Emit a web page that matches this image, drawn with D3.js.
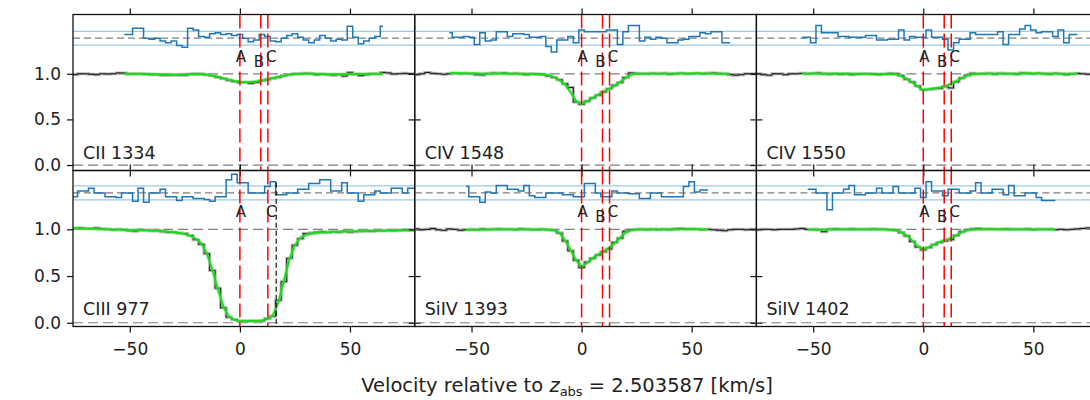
<!DOCTYPE html>
<html>
<head>
<meta charset="utf-8">
<script src="https://cdn.jsdelivr.net/npm/d3@7"></script>
<style>
    body { margin: 0; background: #fff; }
    text { font-family: "DejaVu Sans", sans-serif; }
</style>
</head>
<body>
<div id="chart"></div>
<script>
// velocity grid of the spectrum bins (km/s)
const velGrid = [
    -77.5, -75, -72.5, -70, -67.5, -65, -62.5, -60, -57.5, -55,
    -52.5, -50, -47.5, -45, -42.5, -40, -37.5, -35, -32.5, -30,
    -27.5, -25, -22.5, -20, -17.5, -15, -12.5, -10, -7.5, -5,
    -2.5, 0, 2.5, 5, 7.5, 10, 12.5, 15, 17.5, 20,
    22.5, 25, 27.5, 30, 32.5, 35, 37.5, 40, 42.5, 45,
    47.5, 50, 52.5, 55, 57.5, 60, 62.5, 65, 67.5, 70,
    72.5, 75, 77.5, 80
];

const xTicks = [-50, 0, 50];
const yTicks = [0, 0.5, 1.0];

// component positions (km/s)
const compNames = ["A", "B", "C"];
const compVel = [0, 9.5, 12.7];
const extraLineVel = 16.5;   // black dashed line in CIII panel

const residCenter = 1.39;
const residBand = 0.075;

// ---------- CII 1334 ----------
const cii1334Flux = [
    0.995, 0.99, 1.0, 1.0, 0.995, 0.99, 1.0, 0.998, 1.0, 1.01,
    1.01, 0.998, 1.0, 1.0, 0.995, 0.99, 0.99, 0.985, 0.985, 0.988,
    0.985, 0.985, 0.995, 1.0, 0.997, 0.99, 0.978, 0.962, 0.948, 0.93,
    0.915, 0.905, 0.905, 0.895, 0.905, 0.925, 0.935, 0.95, 0.962, 0.98,
    0.99, 1.0, 1.0, 1.005, 1.0, 0.99, 0.995, 0.99, 0.985, 0.99,
    0.975, 1.015, 0.995, 0.98, 0.99, 1.0, 1.0, 1.015, 1.01, 0.998,
    1.0, 1.005, 1.0, 1.0
];
const cii1334Fit = [-52.5, 65];
const cii1334Model = [
    1.0, 1.0, 1.0, 1.0, 0.999, 0.997, 0.995, 0.993, 0.992, 0.992,
    0.992, 0.993, 0.995, 0.996, 0.995, 0.99, 0.98, 0.966, 0.95, 0.935,
    0.922, 0.913, 0.909, 0.91, 0.917, 0.927, 0.94, 0.953, 0.967, 0.98,
    0.991, 0.997, 1.0, 1.002, 1.002, 1.0, 0.998, 0.996, 0.995, 0.995,
    0.996, 0.998, 0.999, 1.0, 1.0, 1.0, 1.0, 1.0
];
const cii1334Resid = [
    1.43, 1.43, 1.50, 1.50, 1.39, 1.38, 1.39, 1.36, 1.34, 1.36,
    1.31, 1.29, 1.50, 1.48, 1.41, 1.40, 1.44, 1.45, 1.43, 1.44,
    1.42, 1.43, 1.39, 1.35, 1.37, 1.43, 1.41, 1.36, 1.35, 1.39,
    1.42, 1.44, 1.40, 1.37, 1.34, 1.37, 1.42, 1.39, 1.36, 1.38,
    1.37, 1.52, 1.40, 1.33, 1.36, 1.39, 1.41, 1.52
];

// ---------- CIV 1548 ----------
const civ1548Flux = [
    0.995, 0.99, 1.0, 1.015, 1.005, 1.0, 0.995, 1.0, 1.005, 1.0,
    1.005, 1.0, 0.99, 0.988, 1.0, 1.008, 1.005, 1.01, 1.0, 1.005,
    1.0, 0.99, 1.0, 0.995, 0.99, 0.975, 0.96, 0.935, 0.89, 0.85,
    0.69, 0.665, 0.70, 0.735, 0.765, 0.80, 0.835, 0.875, 0.905, 0.96,
    1.01, 1.005, 1.0, 1.0, 1.005, 1.0, 1.005, 0.995, 1.0, 1.005,
    1.0, 1.0, 1.005, 1.0, 1.005, 1.01, 1.005, 1.0, 0.99, 0.985,
    0.99, 1.0, 1.0, 1.0
];
const civ1548Fit = [-60, 67.5];
const civ1548Model = [
    1.008, 1.007, 1.006, 1.005, 1.004, 1.004, 1.003, 1.003, 1.002, 1.002,
    1.001, 1.001, 1.0, 1.0, 1.0, 0.999, 0.998, 0.995, 0.985, 0.965,
    0.93, 0.88, 0.80, 0.70, 0.67, 0.70, 0.735, 0.77, 0.805, 0.835,
    0.87, 0.91, 0.955, 0.99, 1.0, 1.002, 1.003, 1.003, 1.003, 1.003,
    1.003, 1.003, 1.004, 1.004, 1.004, 1.004, 1.004, 1.003, 1.002, 1.0,
    1.0, 1.0
];
const civ1548Resid = [
    1.45, 1.40, 1.40, 1.41, 1.40, 1.32, 1.45, 1.36, 1.37, 1.46,
    1.46, 1.41, 1.44, 1.44, 1.43, 1.40, 1.40, 1.41, 1.30, 1.24,
    1.37, 1.37, 1.41, 1.34, 1.48, 1.46, 1.46, 1.46, 1.46, 1.48,
    1.48, 1.32, 1.46, 1.53, 1.53, 1.36, 1.40, 1.38, 1.40, 1.39,
    1.34, 1.34, 1.37, 1.38, 1.41, 1.41, 1.45, 1.44, 1.46, 1.46,
    1.34, 1.34
];

// ---------- CIV 1550 ----------
const civ1550Flux = [
    1.0, 1.0, 0.99, 0.985, 1.0, 1.0, 0.99, 1.0, 1.0, 1.005,
    1.0, 1.005, 1.01, 1.0, 0.995, 1.0, 0.995, 1.0, 0.99, 0.995,
    1.0, 1.0, 0.995, 0.99, 0.995, 1.005, 1.0, 0.98, 0.94, 0.91,
    0.865, 0.825, 0.83, 0.835, 0.84, 0.86, 0.845, 0.91, 0.955, 0.985,
    1.005, 1.0, 1.0, 1.005, 0.995, 1.005, 1.0, 1.0, 0.995, 1.01,
    1.005, 1.0, 1.005, 1.0, 0.995, 1.005, 1.0, 0.99, 1.0, 1.005,
    1.0, 0.995, 1.0, 1.0
];
const civ1550Fit = [-55, 70];
const civ1550Model = [
    1.003, 1.003, 1.003, 1.002, 1.002, 1.002, 1.002, 1.001, 1.001, 1.001,
    1.0, 1.0, 1.0, 1.0, 0.999, 0.998, 0.997, 0.993, 0.975, 0.945,
    0.905, 0.86, 0.82, 0.83, 0.84, 0.85, 0.865, 0.89, 0.92, 0.95,
    0.98, 0.995, 1.0, 1.002, 1.003, 1.003, 1.003, 1.003, 1.003, 1.003,
    1.003, 1.004, 1.004, 1.004, 1.003, 1.002, 1.001, 1.0, 1.0, 1.0,
    1.0
];
const civ1550Resid = [
    1.40, 1.40, 1.34, 1.53, 1.45, 1.45, 1.45, 1.41, 1.41, 1.40,
    1.40, 1.40, 1.42, 1.42, 1.37, 1.37, 1.38, 1.38, 1.48, 1.37,
    1.41, 1.40, 1.40, 1.48, 1.40, 1.40, 1.38, 1.26, 1.34, 1.38,
    1.38, 1.45, 1.43, 1.43, 1.43, 1.43, 1.46, 1.32, 1.43, 1.43,
    1.49, 1.53, 1.48, 1.45, 1.46, 1.46, 1.41, 1.48, 1.34, 1.43,
    1.43
];

// ---------- CIII 977 ----------
const ciii977Flux = [
    1.01, 1.01, 1.015, 1.01, 1.01, 1.015, 1.005, 1.0, 0.995, 1.0,
    0.995, 0.985, 0.98, 0.995, 0.99, 0.985, 0.99, 0.975, 0.97, 0.97,
    0.96, 0.955, 0.935, 0.89, 0.84, 0.74, 0.56, 0.37, 0.16, 0.06,
    0.035, 0.02, 0.015, 0.02, 0.02, 0.02, 0.045, 0.07, 0.24, 0.44,
    0.69, 0.83, 0.90, 0.955, 0.96, 0.97, 0.975, 0.965, 0.975, 0.97,
    0.98, 0.97, 0.975, 0.98, 0.985, 0.98, 0.99, 0.985, 0.99, 0.985,
    0.99, 0.995, 0.99, 0.99
];
const ciii977Fit = [-77.5, 80];
const ciii977Model = [
    1.012, 1.012, 1.01, 1.008, 1.007, 1.005, 1.003, 1.0, 0.998, 0.996,
    0.995, 0.993, 0.991, 0.99, 0.988, 0.986, 0.983, 0.98, 0.975, 0.968,
    0.96, 0.95, 0.93, 0.90, 0.85, 0.74, 0.57, 0.36, 0.17, 0.07,
    0.03, 0.02, 0.018, 0.018, 0.02, 0.025, 0.04, 0.08, 0.22, 0.45,
    0.68, 0.83, 0.91, 0.94, 0.955, 0.962, 0.967, 0.97, 0.973, 0.975,
    0.977, 0.979, 0.98, 0.982, 0.983, 0.984, 0.985, 0.986, 0.987, 0.988,
    0.988, 0.989, 0.99, 0.99
];
const ciii977Resid = [
    1.35, 1.35, 1.41, 1.41, 1.44, 1.39, 1.39, 1.35, 1.35, 1.34,
    1.39, 1.39, 1.30, 1.44, 1.29, 1.39, 1.39, 1.43, 1.35, 1.35,
    1.31, 1.35, 1.35, 1.33, 1.33, 1.32, 1.30, 1.35, 1.35, 1.53,
    1.59, 1.50, 1.50, 1.39, 1.39, 1.39, 1.46, 1.51, 1.37, 1.37,
    1.39, 1.39, 1.43, 1.43, 1.49, 1.49, 1.53, 1.53, 1.41, 1.41,
    1.50, 1.39, 1.39, 1.30, 1.37, 1.37, 1.41, 1.39, 1.39, 1.44,
    1.44, 1.39, 1.44, 1.44
];

// ---------- SiIV 1393 ----------
const siiv1393Flux = [
    1.0, 1.005, 0.995, 1.0, 1.01, 0.995, 0.99, 1.005, 1.0, 0.99,
    0.995, 1.0, 0.995, 1.005, 1.0, 1.0, 1.005, 1.0, 1.0, 0.995,
    1.005, 1.0, 0.995, 0.995, 1.0, 0.995, 0.99, 0.96, 0.875, 0.77,
    0.67, 0.59, 0.65, 0.69, 0.725, 0.76, 0.79, 0.86, 0.905, 0.98,
    0.995, 1.0, 1.0, 0.995, 1.0, 0.995, 1.0, 0.995, 1.005, 1.01,
    1.0, 1.005, 1.0, 0.995, 1.0, 0.995, 0.99, 0.985, 0.995, 1.0,
    1.0, 0.995, 1.0, 1.0
];
const siiv1393Fit = [-52.5, 57.5];
const siiv1393Model = [
    0.995, 0.995, 0.996, 0.997, 0.998, 0.999, 1.0, 1.0, 1.0, 1.0,
    1.0, 1.0, 1.0, 1.0, 0.999, 0.997, 0.99, 0.965, 0.88, 0.78,
    0.67, 0.60, 0.64, 0.69, 0.73, 0.765, 0.80, 0.85, 0.91, 0.965,
    0.99, 0.998, 1.0, 1.0, 1.0, 1.0, 1.0, 1.0, 1.0, 1.002,
    1.004, 1.004, 1.002, 1.0, 1.0
];
const siiv1393Resid = [
    1.46, 1.35, 1.35, 1.29, 1.40, 1.39, 1.47, 1.47, 1.43, 1.43,
    1.41, 1.47, 1.36, 1.34, 1.34, 1.39, 1.39, 1.39, 1.37, 1.37,
    1.35, 1.35, 1.49, 1.49, 1.39, 1.35, 1.35, 1.41, 1.39, 1.39,
    1.38, 1.38, 1.33, 1.33, 1.39, 1.39, 1.35, 1.35, 1.35, 1.35,
    1.46, 1.51, 1.40, 1.42, 1.42
];

// ---------- SiIV 1402 ----------
const siiv1402Flux = [
    1.0, 0.995, 1.0, 1.0, 0.995, 1.0, 1.0, 1.0, 1.005, 1.01,
    1.0, 1.0, 0.995, 0.975, 1.0, 1.005, 1.0, 1.0, 1.005, 1.0,
    1.0, 1.0, 1.005, 1.0, 1.0, 0.995, 0.99, 0.965, 0.93, 0.87,
    0.81, 0.78, 0.805, 0.835, 0.86, 0.875, 0.89, 0.935, 0.975, 0.995,
    1.005, 1.01, 1.0, 1.005, 1.0, 1.0, 1.005, 1.0, 1.0, 1.0,
    1.005, 0.995, 1.0, 1.0, 1.0, 0.995, 1.0, 0.995, 1.0, 1.005,
    1.01, 1.015, 1.01, 1.01
];
const siiv1402Fit = [-52.5, 60];
const siiv1402Model = [
    0.995, 0.997, 0.998, 0.998, 0.999, 1.0, 1.0, 1.0, 1.0, 1.0,
    1.0, 1.0, 1.0, 1.0, 0.999, 0.997, 0.99, 0.97, 0.935, 0.88,
    0.82, 0.785, 0.81, 0.84, 0.865, 0.885, 0.905, 0.935, 0.97, 0.99,
    0.998, 1.0, 1.002, 1.002, 1.002, 1.001, 1.0, 1.0, 1.0, 1.0,
    1.0, 1.0, 1.0, 1.0, 1.0, 1.0
];
const siiv1402Resid = [
    1.43, 1.43, 1.39, 1.39, 1.21, 1.39, 1.39, 1.43, 1.47, 1.37,
    1.37, 1.39, 1.39, 1.44, 1.39, 1.39, 1.46, 1.39, 1.39, 1.39,
    1.44, 1.34, 1.51, 1.41, 1.41, 1.36, 1.43, 1.43, 1.39, 1.39,
    1.41, 1.50, 1.39, 1.39, 1.43, 1.43, 1.37, 1.47, 1.36, 1.36,
    1.39, 1.39, 1.34, 1.31, 1.31, 1.31
];

// panel list (row, col) built from the arrays above
const panels = [
    { name: "CII 1334", row: 0, col: 0, flux: cii1334Flux, fit: cii1334Fit, model: cii1334Model, resid: cii1334Resid, comps: ["A", "B", "C"], extra: false },
    { name: "CIV 1548", row: 0, col: 1, flux: civ1548Flux, fit: civ1548Fit, model: civ1548Model, resid: civ1548Resid, comps: ["A", "B", "C"], extra: false },
    { name: "CIV 1550", row: 0, col: 2, flux: civ1550Flux, fit: civ1550Fit, model: civ1550Model, resid: civ1550Resid, comps: ["A", "B", "C"], extra: false },
    { name: "CIII 977", row: 1, col: 0, flux: ciii977Flux, fit: ciii977Fit, model: ciii977Model, resid: ciii977Resid, comps: ["A", "C"], extra: true },
    { name: "SiIV 1393", row: 1, col: 1, flux: siiv1393Flux, fit: siiv1393Fit, model: siiv1393Model, resid: siiv1393Resid, comps: ["A", "B", "C"], extra: false },
    { name: "SiIV 1402", row: 1, col: 2, flux: siiv1402Flux, fit: siiv1402Fit, model: siiv1402Model, resid: siiv1402Resid, comps: ["A", "B", "C"], extra: false }
];

// ---------- layout ----------
const width = 1090, height = 400;
const gridLeft = 73, panelW = 341.7;
const rowTop = [14.5, 170.5], panelH = 156;
const rowDomain = [[-0.06, 1.65], [-0.04, 1.63]];

const svg = d3.select("#chart").append("svg")
    .attr("width", width)
    .attr("height", height);

const x = d3.scaleLinear().domain([-75.8, 79.4]).range([0, panelW]);

const stepLine = (xs, ys) => d3.line()
    .curve(d3.curveStep)
    .x(d => xs(d.v))
    .y(d => ys(d.f));

panels.forEach((p, pi) => {
    const y = d3.scaleLinear().domain(rowDomain[p.row]).range([panelH, 0]);
    const g = svg.append("g")
        .attr("transform", `translate(${gridLeft + p.col * panelW},${rowTop[p.row]})`);

    g.append("clipPath").attr("id", "clip" + pi)
        .append("rect").attr("width", panelW).attr("height", panelH);

    const plot = g.append("g").attr("clip-path", `url(#clip${pi})`);

    const startIdx = velGrid.indexOf(p.fit[0]);
    const fluxPts = p.flux.map((f, i) => ({ v: velGrid[i], f: f }));
    const modelPts = p.model.map((f, i) => ({ v: velGrid[startIdx + i], f: f }));
    const residPts = p.resid.map((f, i) => ({ v: velGrid[startIdx + i], f: f }));

    // reference levels
    [0, 1].forEach(lvl => {
        plot.append("line")
            .attr("x1", 0).attr("x2", panelW)
            .attr("y1", y(lvl)).attr("y2", y(lvl))
            .attr("stroke", "#7f7f7f").attr("stroke-width", 1.2)
            .attr("stroke-dasharray", "10,5");
    });

    // residual band
    [residCenter - residBand, residCenter + residBand].forEach(lvl => {
        plot.append("line")
            .attr("x1", 0).attr("x2", panelW)
            .attr("y1", y(lvl)).attr("y2", y(lvl))
            .attr("stroke", "#9ecae1").attr("stroke-width", 1.2);
    });
    plot.append("line")
        .attr("x1", 0).attr("x2", panelW)
        .attr("y1", y(residCenter)).attr("y2", y(residCenter))
        .attr("stroke", "#7f7f7f").attr("stroke-width", 1.2)
        .attr("stroke-dasharray", "7,4");

    // residuals
    plot.append("path").datum(residPts)
        .attr("d", stepLine(x, y))
        .attr("fill", "none").attr("stroke", "#1f77b4").attr("stroke-width", 1.5);

    // data
    plot.append("path").datum(fluxPts)
        .attr("d", stepLine(x, y))
        .attr("fill", "none").attr("stroke", "#999").attr("stroke-opacity", 0.7)
        .attr("stroke-width", 3);
    plot.append("path").datum(fluxPts)
        .attr("d", stepLine(x, y))
        .attr("fill", "none").attr("stroke", "#111").attr("stroke-width", 1);

    // model
    plot.append("path").datum(modelPts)
        .attr("d", d3.line().x(d => x(d.v)).y(d => y(d.f)))
        .attr("fill", "none").attr("stroke", "#66ee66").attr("stroke-opacity", 0.5)
        .attr("stroke-width", 3.5);
    plot.append("path").datum(modelPts)
        .attr("d", d3.line().x(d => x(d.v)).y(d => y(d.f)))
        .attr("fill", "none").attr("stroke", "#1ed81e").attr("stroke-width", 1.8);

    // component lines + labels
    p.comps.forEach(c => {
        const v = compVel[compNames.indexOf(c)];
        plot.append("line")
            .attr("x1", x(v)).attr("x2", x(v))
            .attr("y1", 0).attr("y2", panelH)
            .attr("stroke", "#ff0000").attr("stroke-width", 1.5)
            .attr("stroke-dasharray", "14,5");
        const dx = c === "A" ? 1 : (c === "B" ? -2 : 3.5);
        const lvl = c === "B" ? 1.08 : 1.13;
        plot.append("text")
            .attr("x", x(v) + dx).attr("y", y(lvl))
            .attr("text-anchor", "middle")
            .attr("font-size", "15px").attr("fill", "#222")
            .text(c);
    });
    if (p.extra) {
        plot.append("line")
            .attr("x1", x(extraLineVel)).attr("x2", x(extraLineVel))
            .attr("y1", y(1.5)).attr("y2", panelH)
            .attr("stroke", "#111").attr("stroke-width", 1.2)
            .attr("stroke-dasharray", "5,3");
    }

    // panel label
    g.append("text")
        .attr("x", 10).attr("y", panelH - 12)
        .attr("font-size", "17.5px").attr("fill", "#222")
        .text(p.name);

    // axes
    const yLeft = d3.axisLeft(y).tickValues(yTicks).tickSize(6).tickPadding(6)
        .tickFormat(p.col === 0 ? d3.format(".1f") : "");
    const yRight = d3.axisRight(y).tickValues(yTicks).tickSize(6).tickFormat("");
    const xTop = d3.axisTop(x).tickValues(xTicks).tickSize(6).tickFormat("");
    const xBottom = d3.axisBottom(x).tickValues(xTicks).tickSize(6).tickPadding(10)
        .tickFormat(p.row === 1 ? d3.format("d") : "");

    g.append("g").attr("class", "axis").call(yLeft);
    g.append("g").attr("class", "axis").attr("transform", `translate(${panelW},0)`).call(yRight);
    g.append("g").attr("class", "axis").call(xTop);
    g.append("g").attr("class", "axis").attr("transform", `translate(0,${panelH})`).call(xBottom);

    g.append("rect")
        .attr("width", panelW).attr("height", panelH)
        .attr("fill", "none").attr("stroke", "#111").attr("stroke-width", 1.3);
});

svg.selectAll(".axis .domain").remove();
svg.selectAll(".axis line").attr("stroke", "#111").attr("stroke-width", 1.2);
svg.selectAll(".axis text")
    .attr("font-size", "17px")
    .attr("fill", "#222")
    .style("font-family", "'DejaVu Sans', sans-serif");

// x label with subscript
const xLabel = svg.append("text")
    .attr("x", 567).attr("y", 392)
    .attr("text-anchor", "middle")
    .attr("font-size", "19.5px").attr("fill", "#222");
xLabel.append("tspan").text("Velocity relative to ");
xLabel.append("tspan").attr("font-style", "italic").text("z");
xLabel.append("tspan").attr("font-size", "13px").attr("dy", 4).text("abs");
xLabel.append("tspan").attr("dy", -4).text(" = 2.503587 [km/s]");
</script>
</body>
</html>
